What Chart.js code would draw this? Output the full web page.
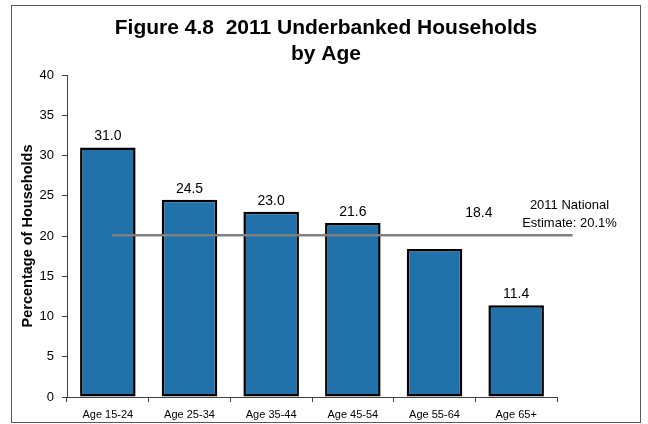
<!DOCTYPE html>
<html>
<head>
<meta charset="utf-8">
<script src="https://cdn.jsdelivr.net/npm/chart.js@4/dist/chart.umd.min.js"></script>
<style>
  body { margin: 0; background: #fff; }
  #frame {
    position: absolute;
    left: 11px;
    top: 5px;
    width: 630px;
    height: 418px;
    border: 1px solid #595959;
    box-sizing: border-box;
  }
</style>
</head>
<body>
<div id="frame"><canvas id="chart" width="628" height="416"></canvas></div>
<script>
// =======================
// 1. Dados
// =======================
const titleLines = ["Figure 4.8  2011 Underbanked Households", "by Age"];
const yTitle = "Percentage of Households";
const categories = ["Age 15-24", "Age 25-34", "Age 35-44", "Age 45-54", "Age 55-64", "Age 65+"];
const values = [31.0, 24.5, 23.0, 21.6, 18.4, 11.4];
const nationalEstimate = 20.1;
const refLineFrom = 0.05; // em unidades de categoria (índice)
const refLineTo = 5.69;
const refLabel = ["2011 National", "Estimate: 20.1%"];
const yMin = 0;
const yMax = 40;
const yStep = 5;

const FONT = "Arial, 'Liberation Sans', sans-serif";
const BAR_COLOR = "#2171AA";

// =======================
// 2. Plugin: linha de referência, rótulos de valor e texto
// =======================
const labelsPlugin = {
  id: "labelsPlugin",
  afterDatasetsDraw(chart) {
    const ctx = chart.ctx;
    const x = chart.scales.x;
    const y = chart.scales.y;
    const meta = chart.getDatasetMeta(0);

    const x1 = x.getPixelForValue(refLineFrom);
    const x2 = x.getPixelForValue(refLineTo);
    const lineY = y.getPixelForValue(nationalEstimate);

    ctx.save();
    // linha da estimativa nacional
    ctx.strokeStyle = "#808080";
    ctx.lineWidth = 2.5;
    ctx.beginPath();
    ctx.moveTo(x1, lineY);
    ctx.lineTo(x2, lineY);
    ctx.stroke();

    // valores em cima das barras
    ctx.fillStyle = "#000";
    ctx.textAlign = "center";
    ctx.textBaseline = "middle";
    ctx.font = "14px " + FONT;
    meta.data.forEach((bar, i) => {
      let lx = bar.x;
      let ly = bar.y - 11;
      // se bater na linha, joga o rótulo pra cima dela e um pouco pro lado
      if (Math.abs(ly - lineY) < 10) {
        ly = lineY - 22;
        lx = bar.x + bar.width * 0.8;
      }
      ctx.fillText(values[i].toFixed(1), lx, ly);
    });

    // texto da estimativa, ancorado no fim da linha
    ctx.font = "13px " + FONT;
    ctx.fillText(refLabel[0], x2 - 3, lineY - 30);
    ctx.fillText(refLabel[1], x2 - 3, lineY - 12);
    ctx.restore();
  },
};

// =======================
// 3. Gráfico
// =======================
const ctx = document.getElementById("chart").getContext("2d");
const chart = new Chart(ctx, {
  type: "bar",
  data: {
    labels: categories,
    datasets: [
      {
        label: "Underbanked",
        data: values,
        backgroundColor: BAR_COLOR,
        borderColor: "#000",
        borderWidth: 2.5,
        borderSkipped: false,
        categoryPercentage: 1,
        barPercentage: 0.68,
      },
    ],
  },
  options: {
    responsive: false,
    animation: false,
    layout: { padding: 0, autoPadding: false },
    plugins: {
      legend: { display: false },
      tooltip: { enabled: false },
      title: {
        display: true,
        text: titleLines,
        color: "#000",
        font: { family: FONT, size: 21, weight: "bold", lineHeight: 1.25 },
        padding: { top: 9, bottom: 7.5 },
      },
    },
    scales: {
      x: {
        type: "category",
        offset: true,
        grid: {
          offset: true,
          drawOnChartArea: false,
          drawTicks: true,
          tickLength: 5,
          color: "#404040",
        },
        border: { display: true, color: "#404040", width: 1 },
        ticks: {
          color: "#000",
          font: { family: FONT, size: 11 },
          padding: 6,
          maxRotation: 0,
        },
        afterFit(scale) {
          scale.height = 25;
        },
      },
      y: {
        min: yMin,
        max: yMax,
        grid: {
          drawOnChartArea: false,
          drawTicks: true,
          tickLength: 5,
          color: "#404040",
        },
        border: { display: true, color: "#404040", width: 1 },
        ticks: {
          stepSize: yStep,
          color: "#000",
          font: { family: FONT, size: 13 },
          padding: 8,
        },
        title: {
          display: true,
          text: yTitle,
          color: "#000",
          font: { family: FONT, size: 14.5, weight: "bold", lineHeight: 1.2 },
          padding: { top: 7, bottom: 0 },
        },
        afterFit(scale) {
          scale.width = 55;
        },
      },
      // eixo vazio só para reservar espaço à direita
      yr: {
        position: "right",
        display: true,
        grid: { display: false },
        border: { display: false },
        ticks: { display: false },
        afterFit(scale) {
          scale.width = 83;
        },
      },
    },
  },
  plugins: [labelsPlugin],
});
</script>
</body>
</html>
